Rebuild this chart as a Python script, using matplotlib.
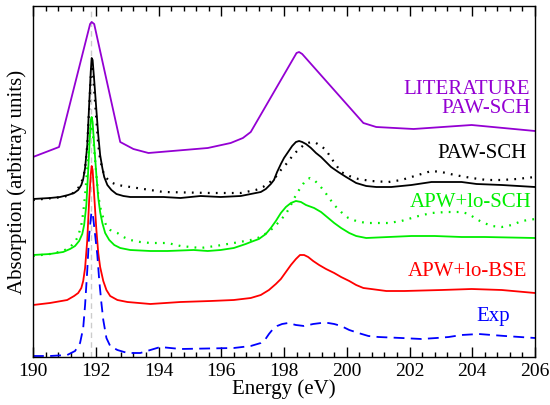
import matplotlib
matplotlib.use("Agg")
import matplotlib.pyplot as plt
from matplotlib.ticker import MultipleLocator

plt.rcParams['font.family'] = ['Liberation Serif', 'DejaVu Serif']
SERIF = ['Liberation Serif', 'DejaVu Serif']

# ---- data (energy in eV, absorption in arbitrary units, curves offset) ----
lit_x = [190.00, 190.83, 191.82, 191.87, 191.95, 192.78, 193.20, 193.68, 195.57, 196.30,
         196.69, 196.94, 198.40, 198.48, 198.58, 200.53, 200.94, 202.13, 203.98, 206.00]
lit_y = [200, 210, 333, 335, 333, 215, 208, 204, 209, 214,
         219, 225, 304, 305, 303, 234, 230, 228, 232, 226]

paw_x = [190.00, 190.54, 190.86, 191.12, 191.31, 191.44, 191.54, 191.60, 191.66, 191.73,
         191.79, 191.84, 191.87, 191.90, 191.95, 192.02, 192.08, 192.14, 192.21, 192.27,
         192.37, 192.50, 192.66, 192.88, 193.10, 194.16, 194.70, 195.34, 195.98, 196.62,
         197.26, 197.42, 197.58, 197.68, 197.78, 197.90, 198.00, 198.13, 198.26, 198.38,
         198.48, 198.58, 198.70, 198.86, 199.02, 199.18, 199.34, 199.50, 199.73, 199.98,
         200.30, 200.62, 200.94, 201.42, 202.06, 202.70, 203.18, 203.66, 204.14, 204.94,
         206.00]
paw_y = [158, 159, 160, 162, 164, 167, 172, 178, 189, 212,
         252, 285, 299, 297, 277, 247, 222, 202, 189, 180,
         172, 167, 163, 161, 160, 160, 159, 161, 160, 161,
         165, 168, 173, 177, 185, 193, 199, 205, 211, 215,
         216, 215, 213, 209, 204, 200, 195, 190, 185, 180,
         174, 171, 170, 170, 172, 175, 175, 175, 173, 172,
         170]

pawd_x = [190.00, 190.96, 191.18, 191.38, 191.50, 191.60, 191.66, 191.73, 191.79, 191.84,
          191.87, 191.90, 191.95, 192.02, 192.08, 192.14, 192.24, 192.34, 192.46, 192.69,
          193.10, 193.74, 194.16, 195.66, 196.62, 197.10, 197.33, 197.52, 197.71, 197.90,
          198.10, 198.29, 198.48, 198.67, 198.86, 199.02, 199.18, 199.34, 199.50, 199.66,
          199.82, 200.08, 200.37, 200.78, 201.33, 201.74, 202.06, 202.38, 202.70, 203.02,
          203.44, 203.98, 204.46, 204.94, 205.42, 206.00]
pawd_y = [157, 160, 162, 166, 172, 179, 189, 212, 249, 279,
          292, 289, 267, 237, 212, 197, 185, 179, 175, 172,
          170, 167, 165, 164, 164, 167, 170, 174, 179, 187,
          194, 202, 208, 213, 215, 214, 211, 207, 199, 192,
          185, 181, 178, 176, 175, 177, 180, 183, 186, 185,
          182, 179, 177, 177, 178, 180]

apw_x = [190.00, 190.54, 190.96, 191.18, 191.34, 191.47, 191.57, 191.63, 191.70, 191.76,
         191.81, 191.84, 191.87, 191.90, 191.95, 192.02, 192.08, 192.14, 192.21, 192.30,
         192.43, 192.59, 192.78, 193.10, 193.74, 194.29, 195.12, 195.57, 195.98, 196.40,
         196.78, 196.94, 197.20, 197.42, 197.58, 197.74, 197.90, 198.06, 198.22, 198.38,
         198.54, 198.70, 198.96, 199.18, 199.41, 199.60, 199.82, 200.08, 200.30, 200.62,
         201.33, 202.06, 202.80, 203.66, 204.40, 206.00]
apw_y = [102, 103, 105, 108, 111, 116, 123, 132, 152, 187,
         219, 237, 240, 235, 212, 182, 159, 145, 134, 124,
         117, 112, 109, 107, 106, 106, 107, 106, 107, 109,
         113, 115, 118, 123, 129, 136, 144, 150, 154, 156,
         155, 152, 149, 145, 139, 134, 129, 124, 121, 119,
         120, 121, 121, 120, 120, 119]

apwd_x = [190.00, 190.54, 190.96, 191.18, 191.34, 191.44, 191.54, 191.60, 191.66, 191.73,
          191.79, 191.84, 191.87, 191.90, 191.95, 192.02, 192.08, 192.14, 192.24, 192.34,
          192.46, 192.69, 192.88, 193.10, 193.42, 193.74, 194.29, 194.70, 195.34, 195.82,
          196.40, 196.94, 197.26, 197.58, 197.84, 198.06, 198.22, 198.38, 198.54, 198.70,
          198.83, 198.96, 199.12, 199.28, 199.44, 199.60, 199.82, 200.05, 200.30, 200.62,
          201.33, 201.74, 202.29, 202.70, 203.18, 203.66, 203.89, 204.08, 204.30, 204.62,
          204.94, 205.26, 205.58, 206.00]
apwd_y = [101, 103, 106, 110, 115, 121, 132, 144, 162, 189,
          217, 230, 232, 227, 207, 182, 162, 150, 139, 131,
          127, 124, 120, 117, 115, 114, 114, 111, 109, 111,
          114, 117, 120, 127, 135, 143, 152, 162, 170, 177,
          179, 177, 172, 166, 159, 152, 145, 139, 136, 134,
          134, 136, 141, 144, 145, 145, 143, 139, 135, 131,
          130, 132, 136, 138]

bse_x = [190.00, 190.54, 191.09, 191.31, 191.44, 191.54, 191.60, 191.66, 191.73, 191.79,
         191.84, 191.87, 191.90, 191.95, 192.02, 192.08, 192.14, 192.24, 192.34, 192.46,
         192.69, 193.01, 193.74, 194.70, 195.66, 196.40, 196.94, 197.26, 197.52, 197.74,
         197.90, 198.06, 198.22, 198.38, 198.51, 198.64, 198.77, 198.93, 199.12, 199.34,
         199.60, 199.82, 200.08, 200.30, 200.53, 200.78, 201.26, 201.84, 203.02, 203.98,
         204.94, 206.00]
bse_y = [52, 54, 57, 61, 64, 69, 76, 89, 117, 157,
         182, 191, 187, 162, 127, 104, 90, 76, 67, 61,
         57, 55, 53, 55, 56, 57, 59, 62, 67, 73,
         78, 85, 92, 98, 102, 102, 100, 96, 92, 88,
         84, 80, 76, 72, 69, 68, 66, 66, 67, 68,
         67, 64]

exp_x = [190.00, 190.54, 191.09, 191.34, 191.50, 191.60, 191.66, 191.73, 191.79, 191.86,
         191.89, 191.92, 191.98, 192.05, 192.11, 192.18, 192.24, 192.34, 192.46, 192.69,
         193.01, 193.42, 193.74, 194.06, 194.38, 194.70, 196.40, 196.94, 197.26, 197.39,
         197.52, 197.65, 197.78, 197.94, 198.13, 198.38, 198.64, 198.93, 199.18, 199.41,
         199.60, 199.82, 200.08, 200.37, 200.69, 201.01, 201.74, 202.38, 202.86, 203.25,
         203.66, 204.21, 204.62, 205.04, 206.00]
exp_y = [1, 1, 2, 6, 14, 29, 52, 87, 122, 144,
         145, 139, 122, 102, 77, 54, 37, 19, 11, 7,
         4, 4, 7, 10, 9, 8, 9, 11, 14, 17,
         23, 28, 31, 33, 34, 32, 31, 33, 34, 34,
         33, 31, 27, 24, 21, 20, 19, 18, 19, 20,
         22, 23, 22, 21, 19]

ref_energy = 191.86

labels = ["LITERATURE\nPAW-SCH", "PAW-SCH", "APW+lo-SCH", "APW+lo-BSE", "Exp"]
label_x = [205.85, 205.74, 205.90, 205.74, 205.20]
label_y = [258, 204, 155, 85, 40]
label_colors = ["#9400D3", "black", "#00EE00", "red", "#0000FF"]

# ---- figure ----
fig = plt.figure(figsize=(5.5, 4.05), dpi=100)
ax = fig.add_axes([33/550, 1-357/405, 502/550, 351/405])

ax.axvline(ref_energy, color="#cccccc", lw=1.0, ls=(0, (4, 3)), zorder=0)

lw = 1.3
ax.plot(lit_x, lit_y, color="#9400D3", lw=lw)
ax.plot(pawd_x, pawd_y, color="black", lw=1.6, ls=(0, (0.8, 2.8)))
ax.plot(paw_x, paw_y, color="black", lw=lw)
ax.plot(apwd_x, apwd_y, color="#00EE00", lw=1.6, ls=(0, (0.8, 2.8)))
ax.plot(apw_x, apw_y, color="#00EE00", lw=lw)
ax.plot(bse_x, bse_y, color="red", lw=lw)
ax.plot(exp_x, exp_y, color="#0000FF", lw=lw, ls=(0, (6, 3.5)))

for t, x, y, c in zip(labels, label_x, label_y, label_colors):
    ax.text(x, y, t, color=c, fontsize=15, ha="right", va="center",
            multialignment="right", linespacing=1.0, family=SERIF)

ax.set_xlim(190, 206)
ax.set_ylim(0, 351)
ax.xaxis.set_major_locator(MultipleLocator(2))
ax.xaxis.set_minor_locator(MultipleLocator(0.4))
ax.tick_params(axis="x", which="both", direction="in", top=True, bottom=True,
               labelsize=14, pad=4, width=1.0)
ax.tick_params(axis="x", which="major", length=7)
ax.tick_params(axis="x", which="minor", length=3.5)
ax.set_yticks([])
for s in ax.spines.values():
    s.set_linewidth(1.0)

ax.set_xlabel("Energy (eV)", fontsize=15, labelpad=0, family=SERIF)
ax.set_ylabel("Absorption (arbitray units)", fontsize=15, labelpad=4, family=SERIF)

fig.savefig("out.png", dpi=100)
